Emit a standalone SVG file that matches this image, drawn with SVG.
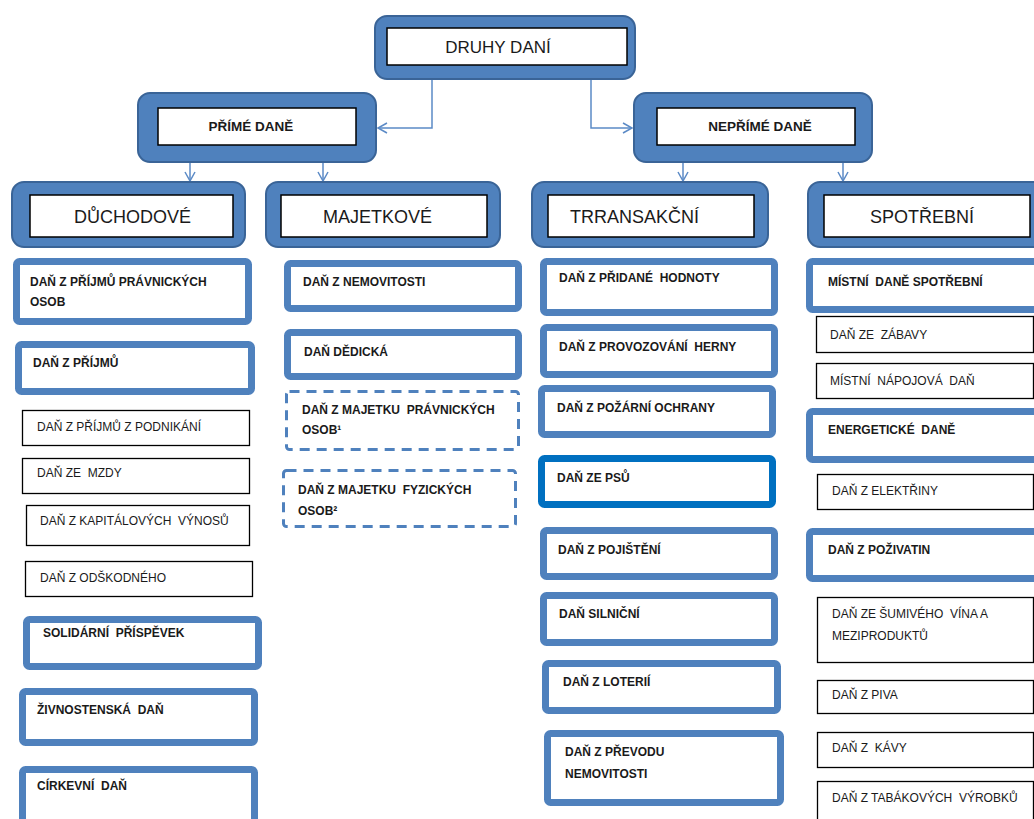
<svg xmlns="http://www.w3.org/2000/svg" width="1034" height="819" viewBox="0 0 1034 819">
<defs>
<style>
.outer{fill:#4f81bd;stroke:#3a6497;stroke-width:2}
.inner{fill:#fff;stroke:#000;stroke-width:1.5}
.blue{fill:#fff;stroke:#4f81bd;stroke-width:7}
.dblue{fill:#fff;stroke:#0070c0;stroke-width:7}
.thin{fill:#fff;stroke:#000;stroke-width:1.3}
.dash{fill:#fff;stroke:#4f81bd;stroke-width:3;stroke-dasharray:10 7}
text{white-space:pre}
.h1{font-family:"Liberation Sans",Arial,sans-serif;font-size:17px;fill:#1a1a1a}
.h2{font-family:"Liberation Sans",Arial,sans-serif;font-size:18px;fill:#1a1a1a}
.hb{font-family:"Liberation Sans",Arial,sans-serif;font-size:13.5px;font-weight:bold;fill:#1a1a1a}
.tb{font-family:"Liberation Sans",Arial,sans-serif;font-size:12px;font-weight:bold;fill:#1a1a1a}
.tn{font-family:"Liberation Sans",Arial,sans-serif;font-size:12px;fill:#1a1a1a}
.conn{fill:none;stroke:#5b8ac6;stroke-width:1.5}
</style>
<marker id="arr" markerWidth="12" markerHeight="12" refX="10" refY="6" orient="auto" markerUnits="userSpaceOnUse">
<path d="M1,1 L10,6 L1,11" fill="none" stroke="#5b8ac6" stroke-width="1.5"/>
</marker>
</defs>

<g id="connectors">
<path class="conn" d="M432,79 V128 H378" marker-end="url(#arr)"/>
<path class="conn" d="M591,79 V128 H632" marker-end="url(#arr)"/>
<path class="conn" d="M190,163 V181" marker-end="url(#arr)"/>
<path class="conn" d="M323,163 V181" marker-end="url(#arr)"/>
<path class="conn" d="M683,163 V181" marker-end="url(#arr)"/>
<path class="conn" d="M843,163 V181" marker-end="url(#arr)"/>
</g>

<g id="druhy-dani">
<rect class="outer" x="375" y="16" width="260" height="63" rx="12"/>
<rect class="inner" x="387" y="28" width="240" height="37"/>
<text class="h1" x="498" y="53" text-anchor="middle">DRUHY DANÍ</text>
</g>

<g id="prime-dane">
<rect class="outer" x="138" y="93" width="238" height="69" rx="12"/>
<rect class="inner" x="158" y="108" width="198" height="37"/>
<text class="hb" x="251" y="131" text-anchor="middle">PŘÍMÉ DANĚ</text>
</g>

<g id="neprime-dane">
<rect class="outer" x="634" y="93" width="238" height="69" rx="12"/>
<rect class="inner" x="657" y="108" width="198" height="37"/>
<text class="hb" x="760" y="131" text-anchor="middle">NEPŘÍMÉ DANĚ</text>
</g>

<g id="duchodove">
<rect class="outer" x="12" y="182" width="233" height="65" rx="12"/>
<rect class="inner" x="30" y="195" width="203" height="42"/>
<text class="h2" x="74" y="223">DŮCHODOVÉ</text>
</g>

<g id="majetkove">
<rect class="outer" x="266" y="182" width="234" height="65" rx="12"/>
<rect class="inner" x="281" y="195" width="206" height="42"/>
<text class="h2" x="323" y="223">MAJETKOVÉ</text>
</g>

<g id="transakcni">
<rect class="outer" x="532" y="182" width="236" height="65" rx="12"/>
<rect class="inner" x="548" y="195" width="206" height="42"/>
<text class="h2" x="570" y="223">TRRANSAKČNÍ</text>
</g>

<g id="spotrebni">
<rect class="outer" x="808" y="182" width="240" height="65" rx="12"/>
<rect class="inner" x="824" y="195" width="206" height="42"/>
<text class="h2" x="870" y="223">SPOTŘEBNÍ</text>
</g>

<!-- Column 1 -->
<g id="c1-1"><rect class="blue" x="16.5" y="261.5" width="232" height="60" rx="3"/>
<text class="tb" x="30" y="286">DAŇ Z PŘÍJMŮ PRÁVNICKÝCH</text><text class="tb" x="30" y="306">OSOB</text></g>
<g id="c1-2"><rect class="blue" x="18.5" y="344.5" width="233" height="47" rx="3"/>
<text class="tb" x="33" y="367">DAŇ Z PŘÍJMŮ</text></g>
<g id="c1-3"><rect class="thin" x="22.5" y="410.5" width="227" height="35"/>
<text class="tn" x="37" y="431">DAŇ Z PŘÍJMŮ Z PODNIKÁNÍ</text></g>
<g id="c1-4"><rect class="thin" x="22.5" y="458.5" width="227" height="35"/>
<text class="tn" x="37" y="477">DAŇ ZE  MZDY</text></g>
<g id="c1-5"><rect class="thin" x="26.5" y="505.5" width="223" height="40"/>
<text class="tn" x="40" y="525">DAŇ Z KAPITÁLOVÝCH  VÝNOSŮ</text></g>
<g id="c1-6"><rect class="thin" x="25.5" y="561.5" width="227" height="35"/>
<text class="tn" x="40" y="582">DAŇ Z ODŠKODNÉHO</text></g>
<g id="c1-7"><rect class="blue" x="26.5" y="619.5" width="232" height="47" rx="3"/>
<text class="tb" x="43" y="637">SOLIDÁRNÍ  PŘÍSPĚVEK</text></g>
<g id="c1-8"><rect class="blue" x="22.5" y="691.5" width="232" height="51" rx="3"/>
<text class="tb" x="37" y="714">ŽIVNOSTENSKÁ  DAŇ</text></g>
<g id="c1-9"><rect class="blue" x="22.5" y="769.5" width="232" height="60" rx="3"/>
<text class="tb" x="37" y="790">CÍRKEVNÍ  DAŇ</text></g>

<!-- Column 2 -->
<g id="c2-1"><rect class="blue" x="287.5" y="263.5" width="231" height="45" rx="3"/>
<text class="tb" x="303" y="286">DAŇ Z NEMOVITOSTI</text></g>
<g id="c2-2"><rect class="blue" x="287.5" y="332.5" width="231" height="44" rx="3"/>
<text class="tb" x="304" y="356">DAŇ DĚDICKÁ</text></g>
<g id="c2-3"><rect class="dash" x="286.5" y="391.5" width="232" height="58" rx="3"/>
<text class="tb" x="302" y="414">DAŇ Z MAJETKU  PRÁVNICKÝCH</text><text class="tb" x="302" y="434">OSOB¹</text></g>
<g id="c2-4"><rect class="dash" x="283.5" y="470.5" width="232" height="56" rx="3"/>
<text class="tb" x="298" y="494">DAŇ Z MAJETKU  FYZICKÝCH</text><text class="tb" x="298" y="515">OSOB²</text></g>

<!-- Column 3 -->
<g id="c3-1"><rect class="blue" x="543.5" y="261.5" width="231" height="51" rx="3"/>
<text class="tb" x="559" y="282">DAŇ Z PŘIDANÉ  HODNOTY</text></g>
<g id="c3-2"><rect class="blue" x="543.5" y="327.5" width="231" height="47" rx="3"/>
<text class="tb" x="559" y="351">DAŇ Z PROVOZOVÁNÍ  HERNY</text></g>
<g id="c3-3"><rect class="blue" x="541.5" y="388.5" width="231" height="46" rx="3"/>
<text class="tb" x="557" y="412">DAŇ Z POŽÁRNÍ OCHRANY</text></g>
<g id="c3-4"><rect class="dblue" x="541.5" y="458.5" width="231" height="46" rx="3"/>
<text class="tb" x="557" y="482">DAŇ ZE PSŮ</text></g>
<g id="c3-5"><rect class="blue" x="543.5" y="530.5" width="231" height="46" rx="3"/>
<text class="tb" x="558" y="554">DAŇ Z POJIŠTĚNÍ</text></g>
<g id="c3-6"><rect class="blue" x="543.5" y="595.5" width="231" height="47" rx="3"/>
<text class="tb" x="559" y="618">DAŇ SILNIČNÍ</text></g>
<g id="c3-7"><rect class="blue" x="545.5" y="663.5" width="232" height="47" rx="3"/>
<text class="tb" x="563" y="686">DAŇ Z LOTERIÍ</text></g>
<g id="c3-8"><rect class="blue" x="547.5" y="733.5" width="233" height="69" rx="3"/>
<text class="tb" x="565" y="756">DAŇ Z PŘEVODU</text><text class="tb" x="565" y="778">NEMOVITOSTI</text></g>

<!-- Column 4 -->
<g id="c4-1"><rect class="blue" x="809.5" y="261.5" width="240" height="48" rx="3"/>
<text class="tb" x="828" y="286">MÍSTNÍ  DANĚ SPOTŘEBNÍ</text></g>
<g id="c4-2"><rect class="thin" x="816.5" y="316.5" width="217" height="36"/>
<text class="tn" x="830" y="339">DAŇ ZE  ZÁBAVY</text></g>
<g id="c4-3"><rect class="thin" x="816.5" y="363.5" width="217" height="35"/>
<text class="tn" x="830" y="385">MÍSTNÍ  NÁPOJOVÁ  DAŇ</text></g>
<g id="c4-4"><rect class="blue" x="809.5" y="411.5" width="240" height="48" rx="3"/>
<text class="tb" x="828" y="434">ENERGETICKÉ  DANĚ</text></g>
<g id="c4-5"><rect class="thin" x="817.5" y="474.5" width="216" height="35"/>
<text class="tn" x="832" y="495">DAŇ Z ELEKTŘINY</text></g>
<g id="c4-6"><rect class="blue" x="809.5" y="531.5" width="240" height="47" rx="3"/>
<text class="tb" x="828" y="554">DAŇ Z POŽIVATIN</text></g>
<g id="c4-7"><rect class="thin" x="817.5" y="597.5" width="216" height="65"/>
<text class="tn" x="832" y="618">DAŇ ZE ŠUMIVÉHO  VÍNA A</text><text class="tn" x="832" y="640">MEZIPRODUKTŮ</text></g>
<g id="c4-8"><rect class="thin" x="817.5" y="680.5" width="216" height="33"/>
<text class="tn" x="832" y="699">DAŇ Z PIVA</text></g>
<g id="c4-9"><rect class="thin" x="817.5" y="732.5" width="216" height="35"/>
<text class="tn" x="832" y="752">DAŇ Z  KÁVY</text></g>
<g id="c4-10"><rect class="thin" x="817.5" y="781.5" width="216" height="45"/>
<text class="tn" x="832" y="802">DAŇ Z TABÁKOVÝCH  VÝROBKŮ</text></g>
</svg>
